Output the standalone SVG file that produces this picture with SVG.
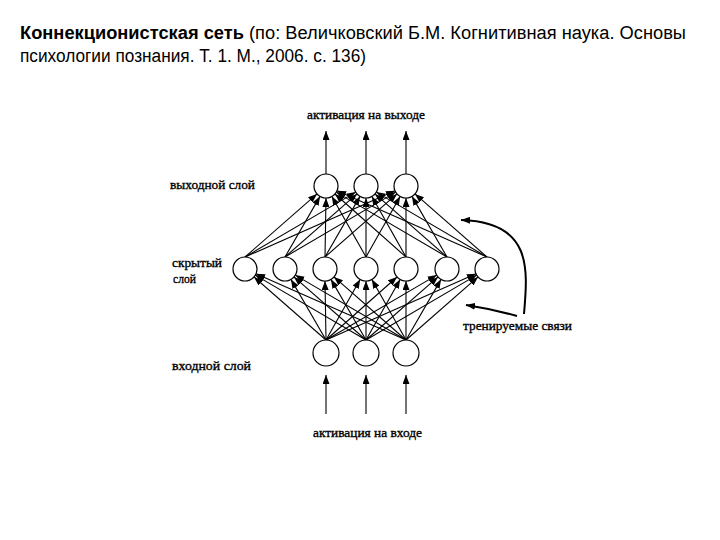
<svg xmlns="http://www.w3.org/2000/svg" width="720" height="540" viewBox="0 0 720 540">
<style>
.title{font-family:"Liberation Sans",Arial,sans-serif;font-size:18px;fill:#000}
.lbl{font-family:"Liberation Serif","Times New Roman",serif;font-size:13px;fill:#000;stroke:#000;stroke-width:0.35}
.node{fill:#fff;stroke:#000;stroke-width:1.2}
.c line,.c path{stroke:#000;stroke-width:1.1;fill:none;marker-end:url(#ah)}
.c .thick{stroke-width:2}
</style>
<defs>
<marker id="ah" markerUnits="userSpaceOnUse" markerWidth="9" markerHeight="7" refX="9" refY="3.5" orient="auto">
<path d="M0,0 L9,3.5 L0,7 z" fill="#000"/>
</marker>
</defs>
<rect width="720" height="540" fill="#fff"/>
<g id="title">
<text class="title" x="20" y="39" textLength="666" lengthAdjust="spacingAndGlyphs"><tspan font-weight="bold">Коннекционистская сеть</tspan> (по: Величковский Б.М.  Когнитивная наука. Основы</text>
<text class="title" x="20" y="62" textLength="346" lengthAdjust="spacingAndGlyphs">психологии познания.  Т. 1. М., 2006. с. 136)</text>
</g>
<g id="labels">
<text class="lbl" x="307" y="119" textLength="118" lengthAdjust="spacingAndGlyphs">активация на выходе</text>
<text class="lbl" x="170" y="189" textLength="85" lengthAdjust="spacingAndGlyphs">выходной слой</text>
<text class="lbl" x="172" y="267" textLength="50" lengthAdjust="spacingAndGlyphs">скрытый</text>
<text class="lbl" x="173" y="283" textLength="23" lengthAdjust="spacingAndGlyphs">слой</text>
<text class="lbl" x="172" y="370" textLength="79" lengthAdjust="spacingAndGlyphs">входной слой</text>
<text class="lbl" x="463" y="330" textLength="109" lengthAdjust="spacingAndGlyphs">тренируемые связи</text>
<text class="lbl" x="313" y="437" textLength="109" lengthAdjust="spacingAndGlyphs">активация на входе</text>
</g>
<g id="connectors" class="c">
<line x1="326" y1="174" x2="326" y2="131"/>
<line x1="366" y1="174" x2="366" y2="131"/>
<line x1="406" y1="174" x2="406" y2="131"/>
<line x1="326" y1="414" x2="326" y2="375"/>
<line x1="366" y1="414" x2="366" y2="375"/>
<line x1="406" y1="414" x2="406" y2="375"/>
<line x1="245" y1="257" x2="317" y2="193.9"/>
<line x1="285" y1="257" x2="320" y2="196.4"/>
<line x1="325" y1="257" x2="326" y2="198"/>
<line x1="366" y1="257" x2="331.9" y2="196.5"/>
<line x1="406" y1="257" x2="335" y2="194"/>
<line x1="447" y1="257" x2="336.3" y2="192.1"/>
<line x1="487" y1="257" x2="337" y2="190.8"/>
<line x1="245" y1="257" x2="355.7" y2="192.1"/>
<line x1="285" y1="257" x2="357" y2="193.9"/>
<line x1="325" y1="257" x2="360" y2="196.4"/>
<line x1="366" y1="257" x2="366" y2="198"/>
<line x1="406" y1="257" x2="371.9" y2="196.5"/>
<line x1="447" y1="257" x2="375" y2="193.9"/>
<line x1="487" y1="257" x2="376.3" y2="192.1"/>
<line x1="245" y1="257" x2="395" y2="190.8"/>
<line x1="285" y1="257" x2="395.7" y2="192.1"/>
<line x1="325" y1="257" x2="397" y2="193.9"/>
<line x1="366" y1="257" x2="400.1" y2="196.5"/>
<line x1="406" y1="257" x2="406" y2="198"/>
<line x1="447" y1="257" x2="412" y2="196.4"/>
<line x1="487" y1="257" x2="415" y2="193.9"/>
<line x1="326" y1="340" x2="254" y2="276.9"/>
<line x1="326" y1="340" x2="291" y2="279.4"/>
<line x1="326" y1="340" x2="325" y2="281"/>
<line x1="326" y1="340" x2="360.1" y2="279.5"/>
<line x1="326" y1="340" x2="397" y2="277"/>
<line x1="326" y1="340" x2="436.7" y2="275.1"/>
<line x1="326" y1="340" x2="476" y2="273.8"/>
<line x1="366" y1="340" x2="255.3" y2="275.1"/>
<line x1="366" y1="340" x2="294" y2="276.9"/>
<line x1="366" y1="340" x2="331" y2="279.4"/>
<line x1="366" y1="340" x2="366" y2="281"/>
<line x1="366" y1="340" x2="400.1" y2="279.5"/>
<line x1="366" y1="340" x2="438" y2="276.9"/>
<line x1="366" y1="340" x2="476.7" y2="275.1"/>
<line x1="406" y1="340" x2="256" y2="273.8"/>
<line x1="406" y1="340" x2="295.3" y2="275.1"/>
<line x1="406" y1="340" x2="334" y2="276.9"/>
<line x1="406" y1="340" x2="371.9" y2="279.5"/>
<line x1="406" y1="340" x2="406" y2="281"/>
<line x1="406" y1="340" x2="441" y2="279.4"/>
<line x1="406" y1="340" x2="478" y2="276.9"/>
<path class="thick" d="M524,314 C528,268 532,222 461,220"/>
<path class="thick" d="M517,316 Q492,309 466,305"/>
</g>
<g id="out1"><circle class="node" cx="326" cy="186" r="12"/></g>
<g id="out2"><circle class="node" cx="366" cy="186" r="12"/></g>
<g id="out3"><circle class="node" cx="406" cy="186" r="12"/></g>
<g id="hid1"><circle class="node" cx="245" cy="269" r="12"/></g>
<g id="hid2"><circle class="node" cx="285" cy="269" r="12"/></g>
<g id="hid3"><circle class="node" cx="325" cy="269" r="12"/></g>
<g id="hid4"><circle class="node" cx="366" cy="269" r="12"/></g>
<g id="hid5"><circle class="node" cx="406" cy="269" r="12"/></g>
<g id="hid6"><circle class="node" cx="447" cy="269" r="12"/></g>
<g id="hid7"><circle class="node" cx="487" cy="269" r="12"/></g>
<g id="in1"><circle class="node" cx="326" cy="353" r="13"/></g>
<g id="in2"><circle class="node" cx="366" cy="353" r="13"/></g>
<g id="in3"><circle class="node" cx="406" cy="353" r="13"/></g>
</svg>
